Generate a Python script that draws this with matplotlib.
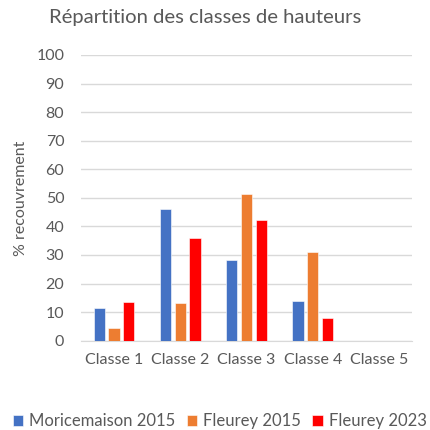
import matplotlib.pyplot as plt
import numpy as np

classes = ['Classe 1', 'Classe 2', 'Classe 3', 'Classe 4', 'Classe 5']
series = ['Moricemaison 2015', 'Fleurey 2015', 'Fleurey 2023']
moricemaison_2015 = [11.4, 46.0, 28.4, 13.8, 0]
fleurey_2015 = [4.3, 13.2, 51.2, 31.0, 0]
fleurey_2023 = [13.4, 36.1, 42.2, 7.9, 0]
colors = ['#4472C4', '#ED7D31', '#FF0000']

plt.rcParams['font.family'] = ['Lato', 'DejaVu Sans']
txt = '#595959'

fig = plt.figure(figsize=(4.31, 4.30), dpi=100)
ax = fig.add_axes([81/431, 1 - 340.7/430, (412-81)/431, (340.7-55)/430])

x = np.arange(len(classes))
w = 0.171
step = 0.222
for i, vals in enumerate([moricemaison_2015, fleurey_2015, fleurey_2023]):
    ax.bar(x + (i - 1) * step, vals, w, color=colors[i], label=series[i],
           edgecolor='white', linewidth=0.4, zorder=3)

ax.set_xlim(-0.5, len(classes) - 0.5)
ax.set_ylim(0, 100)
ax.set_yticks(range(0, 101, 10))
ax.yaxis.grid(True, color='#D9D9D9', linewidth=1, zorder=0)
for s in ax.spines.values():
    s.set_visible(False)
ax.spines['bottom'].set_visible(True)
ax.spines['bottom'].set_color('#D9D9D9')
ax.tick_params(length=0, colors=txt, labelsize=11.5)
ax.tick_params(axis='y', pad=12)
ax.tick_params(axis='x', pad=9)
ax.set_xticks(x)
ax.set_xticklabels(classes)
ax.set_ylabel('% recouvrement', color=txt, fontsize=11.5, labelpad=6)

fig.text(205/431, 1 - 17/430, 'Répartition des classes de hauteurs', ha='center', va='center',
         color=txt, fontsize=14.6)

fig.legend(loc='center', bbox_to_anchor=(219.5/431, 1 - 421/430), ncol=3, frameon=False,
           fontsize=12, handlelength=0.62, handleheight=0.62, handletextpad=0.35,
           columnspacing=0.7, labelcolor=txt, borderaxespad=0, borderpad=0)

fig.savefig('out.png', dpi=100)
